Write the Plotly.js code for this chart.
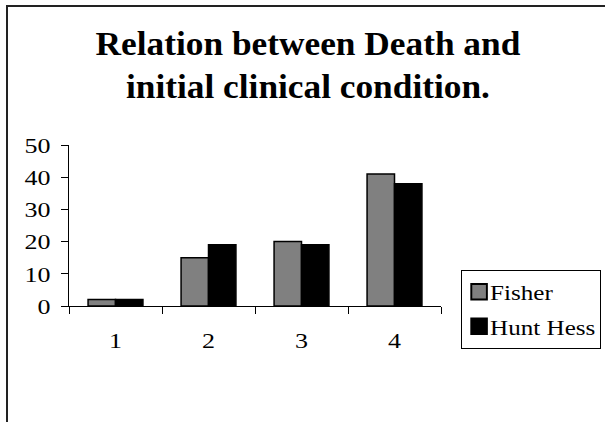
<!DOCTYPE html>
<html>
<head>
<meta charset="utf-8">
<script src="https://cdn.plot.ly/plotly-3.0.1.min.js"></script>
<style>
  html, body { margin: 0; padding: 0; background: #ffffff; }
  #wrap { position: relative; width: 605px; height: 422px; overflow: hidden; }
  #chart { position: absolute; left: 0; top: 0; width: 605px; height: 422px; }
  #frame { position: absolute; left: 6px; top: 5px; width: 700px; height: 500px;
           border-left: 2px solid #222; border-top: 2px solid #222; pointer-events: none; }
</style>
</head>
<body>
<div id="wrap">
  <div id="chart"></div>
  <div id="frame"></div>
</div>
<script>
const categories = ["1", "2", "3", "4"];
const fisherValues = [2, 15, 20, 41];
const huntHessValues = [2, 19, 19, 38];
const seriesNames = ["Fisher", "Hunt Hess"];
const yTickValues = [0, 10, 20, 30, 40, 50];
const gridValues = [10, 20, 30, 40];
const titleText = "Relation between Death and<br>initial clinical condition.";

const serif = "Liberation Serif";

const traces = [
  {
    type: "bar", name: seriesNames[0], x: categories, y: fisherValues,
    marker: { color: "#808080", line: { color: "#000000", width: 1.5 } },
    legendgroup: "a", hoverinfo: "skip"
  },
  {
    type: "bar", name: seriesNames[1], x: categories, y: huntHessValues,
    marker: { color: "#000000", line: { color: "#000000", width: 1.5 } },
    legendgroup: "b", hoverinfo: "skip"
  }
];

const layout = {
  width: 605, height: 422,
  margin: { l: 69, r: 164, t: 145, b: 116, autoexpand: false },
  paper_bgcolor: "#ffffff", plot_bgcolor: "#ffffff",
  font: { family: serif, size: 22, color: "#000000" },
  title: {
    text: titleText,
    font: { family: serif, size: 33, color: "#000000", weight: "bold" },
    xref: "container", x: 0.509, xanchor: "center",
    yref: "container", y: 0.869, yanchor: "top"
  },
  barmode: "group", bargap: 0.41, bargroupgap: 0,
  showlegend: true,
  legend: {
    x: 1.054, xanchor: "left", y: 0.224, yanchor: "top",
    bordercolor: "#000000", borderwidth: 1, bgcolor: "#ffffff",
    font: { family: serif, size: 22, color: "#000000" },
    traceorder: "grouped", tracegroupgap: 3, itemwidth: 30
  },
  xaxis: {
    type: "category", tickson: "boundaries",
    ticks: "outside", ticklen: 7, tickcolor: "#000000", tickwidth: 1,
    showline: true, linecolor: "#000000", linewidth: 1,
    showgrid: false, zeroline: false,
    tickfont: { family: serif, size: 22, color: "#000000" },
    ticklabelstandoff: 15
  },
  yaxis: {
    range: [0, 50], tickvals: yTickValues, ticktext: yTickValues.map(String),
    ticks: "outside", ticklen: 7, tickcolor: "#000000", tickwidth: 1,
    showline: true, linecolor: "#000000", linewidth: 1,
    showgrid: false, zeroline: false,
    tickfont: { family: serif, size: 22, color: "#000000" },
    ticklabelstandoff: 6
  },
  yaxis2: {
    overlaying: "y", anchor: "x", side: "left",
    range: [0, 50], tickvals: gridValues, showticklabels: false, ticks: "",
    showgrid: true, gridcolor: "#000000", gridwidth: 1,
    showline: false, zeroline: false, layer: "below traces"
  }
};

// the reference text is set slightly wide; stretch glyphs horizontally to match
function widen(el, factor) {
  const w = el.getComputedTextLength();
  if (w > 0) {
    el.setAttribute("lengthAdjust", "spacingAndGlyphs");
    el.setAttribute("textLength", (w * factor).toFixed(1));
  }
}

Plotly.newPlot("chart", traces, layout, { staticPlot: true, displayModeBar: false }).then(function (gd) {
  gd.querySelectorAll(".gtitle").forEach(function (t) {
    const lines = t.querySelectorAll("tspan.line");
    if (lines.length) { lines.forEach(function (l) { widen(l, 1.07); }); }
    else { widen(t, 1.07); }
  });
  gd.querySelectorAll(".xtick text, .ytick text").forEach(function (t) { widen(t, 1.18); });
  gd.querySelectorAll(".legendtext").forEach(function (t) {
    widen(t, 1.14);
    t.setAttribute("x", 28);
  });
  gd.querySelectorAll(".legendpoints path").forEach(function (p) {
    const base = p.getAttribute("transform") || "";
    p.setAttribute("transform", base + " translate(-3,0) scale(1.3)");
  });
});
</script>
</body>
</html>
